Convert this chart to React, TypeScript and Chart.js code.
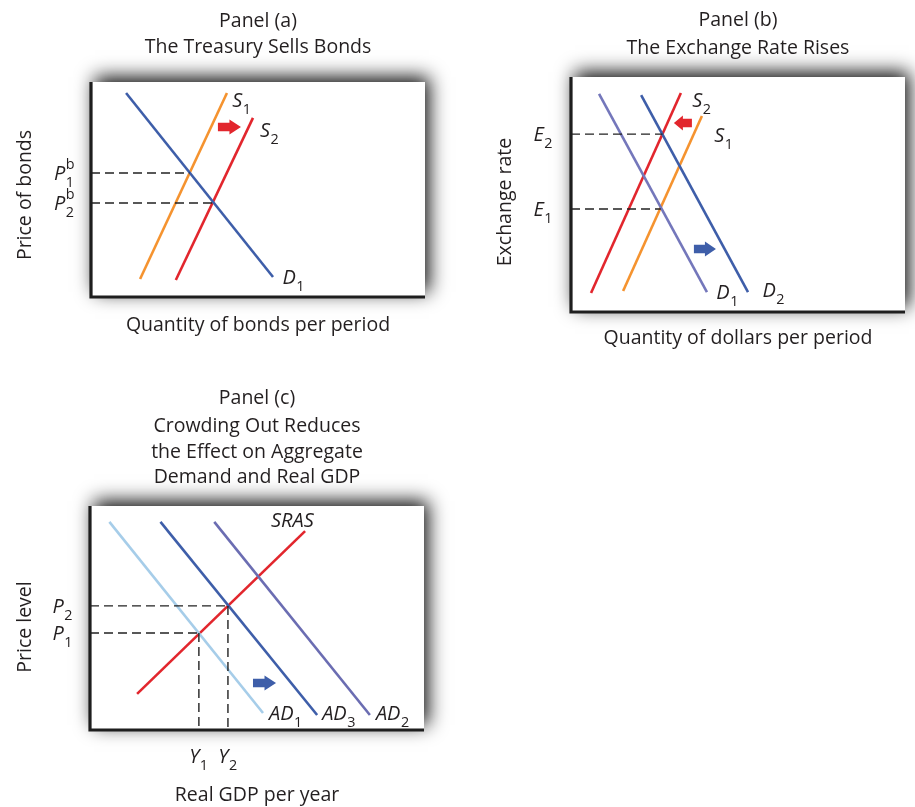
import React, { useEffect, useRef } from 'react';
import { Chart, registerables } from 'chart.js';

Chart.register(...registerables);

type Pt = [number, number];
type Run = { t: string; it?: boolean; sub?: string; sup?: string };

// ---------- Panel (a): The Treasury Sells Bonds ----------
const aD1: Pt[] = [[10.5, 94.9], [54.5, 9.3]];
const aS1: Pt[] = [[14.7, 8.4], [40.7, 94.9]];
const aS2: Pt[] = [[25.4, 7.9], [48.5, 83.3]];
const aEqPrice = [57.7, 43.7];
const aEqQty = [29.5, 36.5];
const aArrowRed = [38.0, 44.9, 79.1];

// ---------- Panel (b): The Exchange Rate Rises ----------
const bD1: Pt[] = [[8.4, 92.8], [40.7, 8.5]];
const bD2: Pt[] = [[21.0, 92.3], [53.0, 8.5]];
const bS2: Pt[] = [[6.0, 8.1], [32.9, 93.2]];
const bS1: Pt[] = [[15.6, 8.9], [39.2, 83.4]];
const bEqRate = [75.7, 43.8];
const bEqQty = [27.4, 26.9];
const bArrowRed = [36.2, 30.8, 80.4];
const bArrowBlue = [36.8, 43.4, 26.8];

// ---------- Panel (c): Crowding Out ----------
const cAD1: Pt[] = [[5.8, 92.9], [51.8, 7.6]];
const cAD3: Pt[] = [[21.1, 92.9], [68.0, 6.7]];
const cAD2: Pt[] = [[37.2, 92.9], [83.8, 6.7]];
const cSRAS: Pt[] = [[14.1, 16.1], [64.4, 88.8]];
const cEqPrice = [43.3, 55.4];
const cEqGDP = [32.6, 41.3];
const cArrowBlue = [48.8, 55.7, 21.0];

const FONT = '"Open Sans", "DejaVu Sans", sans-serif';
const INK = '#231f20';
const ORANGE = '#f5932f';
const RED = '#e2262d';
const BLUE = '#3e5ea9';
const PURPLE = '#7477bb';
const PURPLE2 = '#6b6db2';
const LIGHTBLUE = '#a6cde9';

interface Box { left: number; top: number; right: number; bottom: number }
interface CurveLabel { runs: Run[]; x: number; y: number }
interface Arrow { v: number[]; color: string }
interface PanelCfg {
  box: Box;
  lines: { pts: Pt[]; color: string }[];
  eqQty: number[];
  eqPrice: number[];
  vertical: boolean;
  arrows: Arrow[];
  curveLabels: CurveLabel[];
  priceLabels: Run[][];
  priceLabelGap: number;
  qtyLabels?: Run[][];
  qtyLabelY?: number;
  title: string[];
  titleY: number[];
  xTitle: string;
  xTitleY: number;
  yTitle: string;
  yTitleX: number;
  yTitleY: number;
}

const panels: PanelCfg[] = [
  {
    box: { left: 91, top: 82, right: 425, bottom: 297 },
    lines: [
      { pts: aD1, color: BLUE },
      { pts: aS1, color: ORANGE },
      { pts: aS2, color: RED },
    ],
    eqQty: aEqQty,
    eqPrice: aEqPrice,
    vertical: false,
    arrows: [{ v: aArrowRed, color: RED }],
    curveLabels: [
      { runs: [{ t: 'S', it: true, sub: '1' }], x: 42.3, y: 91.6 },
      { runs: [{ t: 'S', it: true, sub: '2' }], x: 50.6, y: 77.7 },
      { runs: [{ t: 'D', it: true, sub: '1' }], x: 57.3, y: 9.3 },
    ],
    priceLabels: [
      [{ t: 'P', it: true, sub: '1', sup: 'b' }],
      [{ t: 'P', it: true, sub: '2', sup: 'b' }],
    ],
    priceLabelGap: 16,
    title: ['Panel (a)', 'The Treasury Sells Bonds'],
    titleY: [21, 47],
    xTitle: 'Quantity of bonds per period',
    xTitleY: 325,
    yTitle: 'Price of bonds',
    yTitleX: 25,
    yTitleY: 195,
  },
  {
    box: { left: 571, top: 77, right: 905, bottom: 312 },
    lines: [
      { pts: bD1, color: PURPLE },
      { pts: bD2, color: BLUE },
      { pts: bS2, color: RED },
      { pts: bS1, color: ORANGE },
    ],
    eqQty: bEqQty,
    eqPrice: bEqRate,
    vertical: false,
    arrows: [
      { v: bArrowRed, color: RED },
      { v: bArrowBlue, color: BLUE },
    ],
    curveLabels: [
      { runs: [{ t: 'S', it: true, sub: '2' }], x: 36.3, y: 90.2 },
      { runs: [{ t: 'S', it: true, sub: '1' }], x: 42.9, y: 75.3 },
      { runs: [{ t: 'D', it: true, sub: '1' }], x: 43.5, y: 8.5 },
      { runs: [{ t: 'D', it: true, sub: '2' }], x: 57.3, y: 9.4 },
    ],
    priceLabels: [
      [{ t: 'E', it: true, sub: '2' }],
      [{ t: 'E', it: true, sub: '1' }],
    ],
    priceLabelGap: 18,
    title: ['Panel (b)', 'The Exchange Rate Rises'],
    titleY: [20, 48],
    xTitle: 'Quantity of dollars per period',
    xTitleY: 338,
    yTitle: 'Exchange rate',
    yTitleX: 505,
    yTitleY: 202,
  },
  {
    box: { left: 90, top: 506, right: 424, bottom: 730 },
    lines: [
      { pts: cAD1, color: LIGHTBLUE },
      { pts: cAD3, color: BLUE },
      { pts: cAD2, color: PURPLE2 },
      { pts: cSRAS, color: RED },
    ],
    eqQty: cEqGDP,
    eqPrice: cEqPrice,
    vertical: true,
    arrows: [{ v: cArrowBlue, color: BLUE }],
    curveLabels: [
      { runs: [{ t: 'SRAS', it: true }], x: 54.2, y: 93.8 },
      { runs: [{ t: 'AD', it: true, sub: '1' }], x: 53.6, y: 7.6 },
      { runs: [{ t: 'AD', it: true, sub: '3' }], x: 69.5, y: 7.6 },
      { runs: [{ t: 'AD', it: true, sub: '2' }], x: 85.6, y: 7.6 },
    ],
    priceLabels: [
      [{ t: 'P', it: true, sub: '1' }],
      [{ t: 'P', it: true, sub: '2' }],
    ],
    priceLabelGap: 17,
    qtyLabels: [
      [{ t: 'Y', it: true, sub: '1' }],
      [{ t: 'Y', it: true, sub: '2' }],
    ],
    qtyLabelY: 756,
    title: ['Panel (c)', 'Crowding Out Reduces', 'the Effect on Aggregate', 'Demand and Real GDP'],
    titleY: [398, 426, 452, 477],
    xTitle: 'Real GDP per year',
    xTitleY: 795,
    yTitle: 'Price level',
    yTitleX: 25,
    yTitleY: 627,
  },
];

const LABEL_SIZE = 20;
const TEXT_SIZE = 19.5;

function runWidth(ctx: CanvasRenderingContext2D, r: Run, size: number) {
  ctx.font = `${r.it ? 'italic ' : ''}${size}px ${FONT}`;
  const w = ctx.measureText(r.t).width;
  const ss = size * 0.72;
  ctx.font = `${ss}px ${FONT}`;
  const a = r.sub ? ctx.measureText(r.sub).width : 0;
  const b = r.sup ? ctx.measureText(r.sup).width : 0;
  return w + Math.max(a, b) + (r.sub || r.sup ? 1 : 0);
}

function drawRich(
  ctx: CanvasRenderingContext2D,
  runs: Run[],
  x: number,
  y: number,
  align: 'left' | 'right' | 'center',
  size: number
) {
  const total = runs.reduce((s, r) => s + runWidth(ctx, r, size), 0);
  let cx = align === 'left' ? x : align === 'right' ? x - total : x - total / 2;
  ctx.textAlign = 'left';
  ctx.textBaseline = 'alphabetic';
  ctx.fillStyle = INK;
  const base = y + size * 0.36;
  for (const r of runs) {
    ctx.font = `${r.it ? 'italic ' : ''}${size}px ${FONT}`;
    ctx.fillText(r.t, cx, base);
    cx += ctx.measureText(r.t).width + (r.sub || r.sup ? 0.5 : 0);
    const ss = size * 0.72;
    ctx.font = `${ss}px ${FONT}`;
    let ew = 0;
    if (r.sub) {
      ctx.fillText(r.sub, cx, base + size * 0.32);
      ew = Math.max(ew, ctx.measureText(r.sub).width);
    }
    if (r.sup) {
      ctx.fillText(r.sup, cx, base - size * 0.55);
      ew = Math.max(ew, ctx.measureText(r.sup).width);
    }
    cx += ew + (r.sub || r.sup ? 0.5 : 0);
  }
}

function drawArrow(ctx: CanvasRenderingContext2D, x0: number, x1: number, y: number, color: string) {
  const dir = x1 > x0 ? 1 : -1;
  const len = Math.abs(x1 - x0);
  const hh = 7.5;
  const sh = 4.2;
  const headLen = len * 0.5;
  const xs = x0;
  const xh = x1 - dir * headLen;
  ctx.save();
  ctx.fillStyle = color;
  ctx.beginPath();
  ctx.moveTo(xs, y - sh);
  ctx.lineTo(xh, y - sh);
  ctx.lineTo(xh, y - hh);
  ctx.lineTo(x1, y);
  ctx.lineTo(xh, y + hh);
  ctx.lineTo(xh, y + sh);
  ctx.lineTo(xs, y + sh);
  ctx.closePath();
  ctx.fill();
  ctx.restore();
}

function makePlugin(cfg: PanelCfg) {
  return {
    id: 'deco',
    beforeDraw(chart: any) {
      const { ctx, chartArea: a } = chart;
      ctx.save();
      ctx.shadowColor = 'rgba(0,0,0,0.95)';
      ctx.shadowBlur = 18;
      ctx.shadowOffsetX = 4;
      ctx.shadowOffsetY = -5;
      ctx.fillStyle = '#ffffff';
      ctx.fillRect(a.left, a.top, a.right - a.left, a.bottom - a.top);
      ctx.restore();
    },
    afterDatasetsDraw(chart: any) {
      const { ctx, chartArea: a, scales } = chart;
      const xs = scales.x;
      const ys = scales.y;
      ctx.save();
      // axes
      ctx.strokeStyle = '#1e1e1e';
      ctx.lineWidth = 3.2;
      ctx.beginPath();
      ctx.moveTo(a.left, a.top);
      ctx.lineTo(a.left, a.bottom);
      ctx.lineTo(a.right, a.bottom);
      ctx.stroke();
      // arrows
      for (const ar of cfg.arrows) {
        drawArrow(ctx, xs.getPixelForValue(ar.v[0]), xs.getPixelForValue(ar.v[1]), ys.getPixelForValue(ar.v[2]), ar.color);
      }
      // curve labels
      for (const l of cfg.curveLabels) {
        drawRich(ctx, l.runs, xs.getPixelForValue(l.x), ys.getPixelForValue(l.y), 'left', LABEL_SIZE);
      }
      // price labels
      cfg.priceLabels.forEach((runs, i) => {
        drawRich(ctx, runs, a.left - cfg.priceLabelGap, ys.getPixelForValue(cfg.eqPrice[i]), 'right', LABEL_SIZE);
      });
      if (cfg.qtyLabels) {
        cfg.qtyLabels.forEach((runs, i) => {
          drawRich(ctx, runs, xs.getPixelForValue(cfg.eqQty[i]), cfg.qtyLabelY as number, 'center', LABEL_SIZE);
        });
      }
      // titles
      ctx.fillStyle = INK;
      ctx.textAlign = 'center';
      ctx.textBaseline = 'middle';
      ctx.font = `${TEXT_SIZE}px ${FONT}`;
      const cx = (a.left + a.right) / 2;
      cfg.title.forEach((t, i) => ctx.fillText(t, cx, cfg.titleY[i]));
      ctx.fillText(cfg.xTitle, cx, cfg.xTitleY);
      ctx.save();
      ctx.translate(cfg.yTitleX, cfg.yTitleY);
      ctx.rotate(-Math.PI / 2);
      ctx.fillText(cfg.yTitle, 0, 0);
      ctx.restore();
      ctx.restore();
    },
  };
}

function buildDatasets(cfg: PanelCfg) {
  const ds: any[] = [];
  cfg.eqPrice.forEach((p, i) => {
    ds.push({
      data: [{ x: 0, y: p }, { x: cfg.eqQty[i], y: p }],
      borderColor: '#222',
      borderWidth: 1.4,
      borderDash: [9, 5],
    });
    if (cfg.vertical) {
      ds.push({
        data: [{ x: cfg.eqQty[i], y: p }, { x: cfg.eqQty[i], y: 0 }],
        borderColor: '#222',
        borderWidth: 1.4,
        borderDash: [9, 5],
      });
    }
  });
  for (const l of cfg.lines) {
    ds.push({
      data: l.pts.map(([x, y]) => ({ x, y })),
      borderColor: l.color,
      borderWidth: 2.6,
    });
  }
  return ds.map((d) => ({ ...d, pointRadius: 0, fill: false, tension: 0, borderCapStyle: 'butt' }));
}

function Panel({ cfg }: { cfg: PanelCfg }) {
  const ref = useRef<HTMLCanvasElement>(null);
  useEffect(() => {
    const W = 915;
    const H = 807;
    const chart = new Chart(ref.current as HTMLCanvasElement, {
      type: 'line',
      data: { datasets: buildDatasets(cfg) },
      options: {
        animation: false,
        responsive: false,
        events: [],
        layout: {
          padding: {
            left: cfg.box.left,
            top: cfg.box.top,
            right: W - cfg.box.right,
            bottom: H - cfg.box.bottom,
          },
        },
        plugins: { legend: { display: false }, tooltip: { enabled: false }, title: { display: false } },
        scales: {
          x: { type: 'linear', min: 0, max: 100, display: false },
          y: { type: 'linear', min: 0, max: 100, display: false },
        },
      },
      plugins: [makePlugin(cfg)],
    } as any);
    let alive = true;
    const fonts = (document as any).fonts;
    if (fonts && fonts.ready) {
      fonts.ready.then(() => {
        if (alive) chart.draw();
      });
    }
    return () => {
      alive = false;
      chart.destroy();
    };
  }, [cfg]);
  return (
    <canvas
      ref={ref}
      width={915}
      height={807}
      style={{ position: 'absolute', left: 0, top: 0, width: 915, height: 807 }}
    />
  );
}

export default function App() {
  return (
    <div style={{ position: 'absolute', left: 0, top: 0, width: 915, height: 807, background: '#fff', overflow: 'hidden' }}>
      {panels.map((p, i) => (
        <Panel key={i} cfg={p} />
      ))}
    </div>
  );
}
